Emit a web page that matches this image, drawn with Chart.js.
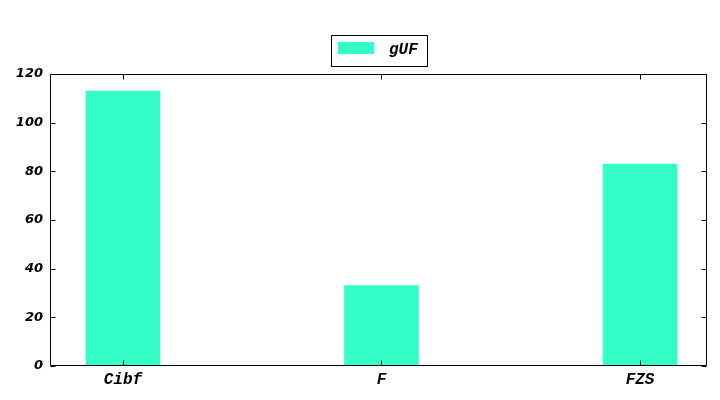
<!DOCTYPE html>
<html>
<head>
<meta charset="utf-8">
<script src="https://cdn.jsdelivr.net/npm/chart.js@4"></script>
<style>
html,body{margin:0;padding:0;background:#fff;}
#wrap{width:720px;height:400px;}
</style>
</head>
<body>
<div id="wrap"><canvas id="c" width="720" height="400"></canvas></div>
<script>
const categories = ["Cibf", "F", "FZS"];
const seriesName = "gUF";
const values = [113, 33, 83];
const yTicks = [0, 20, 40, 60, 80, 100, 120];

const barColor = "#33ffc9";
const monoFont = "bold italic 16px 'Liberation Mono', monospace";

const framePlugin = {
  id: "frame",
  beforeDraw(chart) {
    const ctx = chart.ctx;
    ctx.save();
    ctx.fillStyle = "#fff";
    ctx.fillRect(0, 0, chart.width, chart.height);
    ctx.restore();
  },
  afterDatasetsDraw(chart) {
    const ctx = chart.ctx;
    const a = chart.chartArea;
    const xs = chart.scales.x, ys = chart.scales.y;
    ctx.save();
    ctx.strokeStyle = "#000";
    ctx.lineWidth = 1;
    ctx.beginPath();
    const L = Math.round(a.left) + 0.5, R = Math.round(a.right) - 0.5;
    const T = Math.round(a.top) + 0.5, B = Math.round(a.bottom) - 0.5;
    ctx.rect(L, T, R - L, B - T);
    yTicks.forEach(v => {
      const y = Math.round(ys.getPixelForValue(v)) + 0.5;
      ctx.moveTo(L, y); ctx.lineTo(L + 5, y);
      ctx.moveTo(R, y); ctx.lineTo(R - 5, y);
    });
    categories.forEach((c, i) => {
      const x = Math.round(xs.getPixelForValue(i)) + 0.5;
      ctx.moveTo(x, B); ctx.lineTo(x, B - 5);
      ctx.moveTo(x, T); ctx.lineTo(x, T + 5);
    });
    ctx.stroke();

    // legend (matplotlib-style framed box)
    const ds = chart.data.datasets[0];
    ctx.font = monoFont;
    const tw = ctx.measureText(ds.label).width;
    const fw = 7 + 36 + 15 + tw + 9;
    const fh = 31;
    const fx = Math.round((a.left + a.right) / 2 - fw / 2) + 0.5;
    const fy = 35.5;
    ctx.strokeRect(fx, fy, Math.round(fw), fh);
    ctx.fillStyle = ds.backgroundColor;
    ctx.fillRect(fx + 6.5, fy + 6.5, 36, 12);
    ctx.fillStyle = "#000";
    ctx.textBaseline = "middle";
    ctx.textAlign = "left";
    ctx.fillText(ds.label, fx + 6.5 + 36 + 15, fy + 14);
    ctx.restore();
  }
};

new Chart(document.getElementById("c"), {
  type: "bar",
  data: {
    datasets: [{
      label: seriesName,
      data: categories.map((c, i) => ({ x: i, y: values[i] })),
      backgroundColor: barColor,
      borderWidth: 0,
      barThickness: 74
    }]
  },
  options: {
    responsive: false,
    animation: false,
    devicePixelRatio: 1,
    layout: { padding: { left: 0, right: 13, top: 74, bottom: 0 } },
    plugins: {
      legend: { display: false },
      tooltip: { enabled: false }
    },
    scales: {
      x: {
        type: "linear",
        offset: false,
        min: -0.282,
        max: 2.259,
        grid: { display: false, drawTicks: false, offset: false },
        border: { display: false },
        afterBuildTicks(scale) { scale.ticks = categories.map((c, i) => ({ value: i })); },
        afterFit(scale) { scale.height = 34; },
        ticks: {
          padding: 4,
          color: "#000",
          autoSkip: false,
          maxRotation: 0,
          font: { family: "'Liberation Mono', monospace", size: 16, weight: "bold", style: "italic" },
          callback: (v) => categories[v]
        }
      },
      y: {
        min: 0,
        max: 120,
        grid: { display: false, drawTicks: false },
        border: { display: false },
        afterBuildTicks(scale) { scale.ticks = yTicks.map(v => ({ value: v })); },
        afterFit(scale) { scale.width = 50; },
        ticks: {
          padding: 7,
          color: "#000",
          font: { family: "'DejaVu Sans', sans-serif", size: 13, weight: "bold", style: "italic" }
        }
      }
    }
  },
  plugins: [framePlugin]
});
</script>
</body>
</html>
